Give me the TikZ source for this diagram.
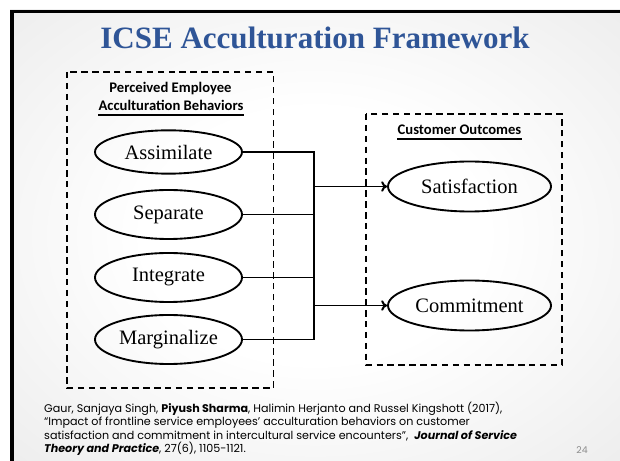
\documentclass[tikz,border=0pt]{standalone}
\usepackage{fontspec}
\setmainfont{Liberation Serif}
\newfontfamily\headfont{Carlito}
\newfontfamily\citefont{Poppins}
\usetikzlibrary{shapes.geometric,arrows.meta}

\definecolor{r47g85b151}{rgb}{0.184314,0.333333,0.592157}
\definecolor{r216g216b216}{rgb}{0.847059,0.847059,0.847059}
\definecolor{r140g140b140}{rgb}{0.549020,0.549020,0.549020}
\pgfdeclareradialshading{slidebg}{\pgfpoint{0bp}{0bp}}{color(0bp)=(white); color(14bp)=(white); color(62bp)=(r216g216b216); color(75bp)=(r216g216b216)}

\tikzset{
  groupbox/.style={draw, dash pattern=on 5.5pt off 3.8pt, line width=1.6pt},
  factor/.style={ellipse, draw, line width=1.6pt, inner sep=0pt,
    minimum width=4.41cm, minimum height=1.47cm,
    font=\fontsize{17.5}{20}\selectfont},
  outcome/.style={factor, minimum width=4.89cm, minimum height=1.5cm},
  link/.style={line width=1.7pt},
  headtxt/.style={font=\headfont\bfseries\fontsize{12.5}{15}\selectfont, inner sep=0pt, anchor=base},
}

\begin{document}
\begin{tikzpicture}[x=0.03cm,y=-0.03cm]
  \useasboundingbox (0,0) rectangle (620,461);

  % Slide background
  \fill[white] (0,0) rectangle (620,461);
  \shade[shading=slidebg] (10,10) rectangle (620,461);
  \fill[black] (10,10) rectangle (14,461);
  \fill[black] (10,10) rectangle (620,13.5);

  % Title
  \node[anchor=base, inner sep=0pt, text=r47g85b151,
    font=\bfseries\fontsize{26.5}{30}\selectfont] (title) at (315,49) {ICSE Acculturation Framework};

  % Drawing dashed groups
  \draw[groupbox] (67,72) rectangle (273.5,388);
  \draw[groupbox] (366,114) rectangle (562,365);

  % Group headings
  \node[headtxt] (headpe) at (170.5,93) {Perceived Employee};
  \node[headtxt] (headab) at (171,111) {Acculturation Behaviors};
  \draw[line width=0.9pt] ([yshift=-3.4pt]headab.base west) -- ([yshift=-3.4pt]headab.base east);
  \node[headtxt] (headco) at (459.5,135) {Customer Outcomes};
  \draw[line width=0.9pt] ([yshift=-3.4pt]headco.base west) -- ([yshift=-3.4pt]headco.base east);

  % Drawing ellipses
  \node[factor, minimum height=1.3cm] (assim) at (168.5,152) {Assimilate};
  \node[factor] (separ) at (168.5,214.5) {Separate};
  \node[factor] (integ) at (168.5,277.5) {Integrate};
  \node[factor] (margin) at (168.5,339.5) {Marginalize};
  \node[outcome] (satis) at (469.5,186.5) {Satisfaction};
  \node[outcome] (commit) at (469.5,305.5) {Commitment};

  % Drawing connectors
  \coordinate (bus) at (314,186.5);
  \draw[link] (assim.east) -- (assim.east -| bus) |- (margin.east);
  \draw[link] (separ.east) -- (separ.east -| bus);
  \draw[link] (integ.east) -- (integ.east -| bus);
  \draw[link, -{To[length=5pt,width=9pt]}] (bus) -- (satis.west);
  \draw[link, -{To[length=5pt,width=9pt]}] (commit.west -| bus) -- (commit.west);

  % Reference
  \node[anchor=base west, inner sep=0pt, align=left,
    font=\citefont\fontsize{9.5}{11.4}\selectfont] (cite) at (44,452.5)
    {Gaur, Sanjaya Singh, \textbf{Piyush Sharma}, Halimin Herjanto and Russel Kingshott (2017),\\
     “Impact of frontline service employees’ acculturation behaviors on customer\\
     satisfaction and commitment in intercultural service encounters”,\ \ \textbf{\textit{Journal of Service}}\\
     \textbf{\textit{Theory and Practice}}, 27(6), 1105-1121.};
  \node[anchor=base, inner sep=0pt, text=r140g140b140,
    font=\citefont\fontsize{8}{9}\selectfont] (pagenum) at (582,453) {24};
\end{tikzpicture}
\end{document}
